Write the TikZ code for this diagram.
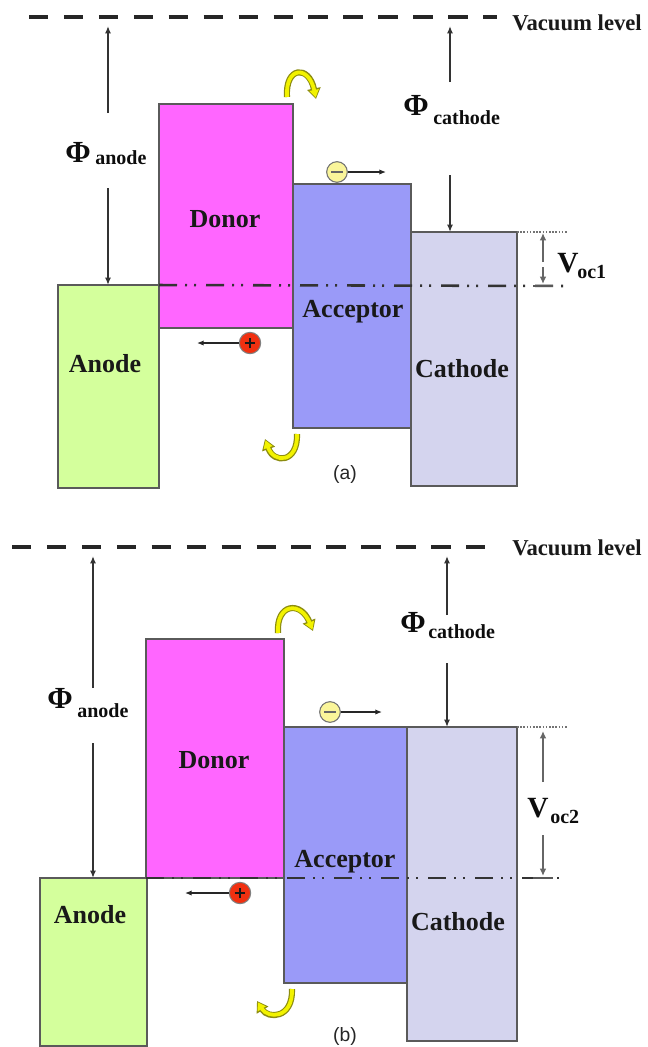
\documentclass[tikz,border=0pt]{standalone}
\usepackage{fontspec}
\setmainfont{Liberation Serif}
\newfontfamily\capfont{Liberation Sans}
\usetikzlibrary{arrows.meta,fit}
\definecolor{anodecol}{HTML}{D4FF9C}
\definecolor{donorcol}{HTML}{FF66FF}
\definecolor{acccol}{HTML}{9A9AF8}
\definecolor{cathcol}{HTML}{D4D4EE}
\definecolor{boxline}{HTML}{5A5A5A}
\definecolor{curvey}{HTML}{F2F200}
\definecolor{curveo}{HTML}{8C8C10}
\definecolor{holecol}{HTML}{F03010}
\definecolor{eleccol}{HTML}{FAF59A}
\tikzset{
  band/.style={draw=boxline, line width=1.1pt, inner sep=0pt, outer sep=0pt},
  lbl/.style={font=\fontsize{19.5}{20}\selectfont\bfseries, text=black!90, inner sep=0pt, anchor=base},
  vaclbl/.style={font=\fontsize{17}{18}\selectfont\bfseries, text=black!90, inner sep=0pt, anchor=base west},
  philbl/.style={font=\fontsize{23}{23}\selectfont\bfseries, text=black!95, inner sep=0pt, anchor=base west},
  vlbl/.style={font=\fontsize{22}{22}\selectfont\bfseries, text=black!95, inner sep=0pt, anchor=base west},
  sublbl/.style={font=\fontsize{15}{15}\selectfont\bfseries, text=black!95, inner sep=0pt, anchor=base west},
  caplbl/.style={font=\capfont\fontsize{14.5}{15}\selectfont, text=black!85, inner sep=0pt, anchor=base},
  vac/.style={line width=3.3pt, dash pattern=on 14.5pt off 11.7pt, black!85},
  fermi/.style={line width=1.9pt, black!80, dash pattern=on 13.5pt off 6pt on 1.5pt off 5.25pt on 1.5pt off 7.5pt},
  dotline/.style={line width=0.8pt, black!55, dash pattern=on 1.2pt off 1.2pt},
  phiarr/.style={line width=1.1pt, black!80, -{Latex[length=5.5pt,width=4.5pt]}},
  vocarr/.style={line width=1.5pt, black!60, -{Latex[length=5.5pt,width=5pt]}},
  capbar/.style={line width=2.2pt, black!65},
  smallarr/.style={line width=0.9pt, black!85, -{Latex[length=5pt,width=4pt]}},
  elec/.style={circle, draw=black!55, line width=0.8pt, fill=eleccol, minimum size=15.5pt, inner sep=0pt,
    path picture={\draw[line width=1.6pt, black!60] ([xshift=-4.2pt]path picture bounding box.center) -- ([xshift=4.2pt]path picture bounding box.center);}},
  hole/.style={circle, draw=black!50, line width=0.8pt, fill=holecol, minimum size=16pt, inner sep=0pt,
    path picture={\draw[line width=1.3pt, black!90] ([xshift=-4pt]path picture bounding box.center) -- ([xshift=4pt]path picture bounding box.center)
      ([yshift=-4pt]path picture bounding box.center) -- ([yshift=4pt]path picture bounding box.center);}},
}
\newcommand{\yellowcurve}[1]{%
  \draw[line width=4.6pt, curveo, -{Triangle[length=8pt,width=9.8pt]}] #1;
  \draw[line width=2.8pt, curvey, -{Triangle[length=5.8pt,width=6.8pt]}, shorten >=1.1pt] #1;}
\begin{document}
\begin{tikzpicture}[x=0.75pt,y=-0.75pt]
\useasboundingbox (0,0) rectangle (647,1047);

% ================= panel (a) =================
\node[band, fill=anodecol, fit={(58,285) (159,488)}] (anodeA) {};
\node[band, fill=donorcol, fit={(159,104) (293,328)}] (donorA) {};
\node[band, fill=acccol, fit={(293,184) (411,428)}] (accA) {};
\node[band, fill=cathcol, fit={(411,232) (517,486)}] (cathA) {};

\node[lbl] (donorAl) at (225,227) {Donor};
\node[lbl] (anodeAl) at (105,372) {Anode};
\node[lbl] (accAl) at (353,317) {Acceptor};
\node[lbl] (cathAl) at (462,377) {Cathode};

% vacuum level
\coordinate (vacAs) at (29,17);
\coordinate (vacAe) at (497,17);
\draw[vac] (vacAs) -- (vacAe);
\node[vaclbl] (vacAl) at (512,30) {Vacuum level};

% Fermi level line and dotted top
\coordinate (fAe) at (563,286);
\draw[fermi] (anodeA.north east) -- (fAe);
\coordinate (dAe) at (567,232);
\draw[dotline] (cathA.north east) -- (dAe);

% Phi anode
\node[philbl] (phiA) at (65,162) {Φ};
\node[sublbl] (phiAs) at (95,164) {anode};
\coordinate (paA1) at (108,113);
\coordinate (paA0) at (108,26);
\draw[phiarr] (paA1) -- (paA0);
\coordinate (paA2) at (108,188);
\draw[phiarr] (paA2) -- (paA2 |- anodeA.north);

% Phi cathode
\node[philbl] (phcA) at (403,115) {Φ};
\node[sublbl] (phcAs) at (433,124) {cathode};
\coordinate (pcA1) at (450,82);
\coordinate (pcA0) at (450,26);
\draw[phiarr] (pcA1) -- (pcA0);
\coordinate (pcA2) at (450,175);
\draw[phiarr] (pcA2) -- (pcA2 |- cathA.north);

% Voc1
\node[vlbl] (vA) at (557,272) {V};
\node[sublbl] (vAs) at (577,278) {oc1};
\coordinate (vA1) at (543,262);
\coordinate (vA0) at (543,233);
\draw[vocarr] (vA1) -- (vA0);
\coordinate (vA2) at (543,267);
\coordinate (vA3) at (543,284);
\draw[vocarr] (vA2) -- (vA3);
\coordinate (bA1) at (533,286);
\coordinate (bA2) at (553,286);
\draw[capbar] (bA1) -- (bA2);

% carriers
\node[elec] (eA) at (337,172) {};
\coordinate (eAe) at (386,172);
\draw[smallarr] (eA) -- (eAe);
\node[hole] (hA) at (250,343) {};
\coordinate (hAe) at (197,343);
\draw[smallarr] (hA) -- (hAe);

% curved yellow arrows
\yellowcurve{(287,97) .. controls (285,66) and (309,65) .. (316,99)}
\yellowcurve{(297,434) .. controls (298,463) and (274,464) .. (265,439)}

\node[caplbl] (capA) at (345,479) {(a)};

% ================= panel (b) =================
\node[band, fill=anodecol, fit={(40,878) (147,1046)}] (anodeB) {};
\node[band, fill=donorcol, fit={(146,639) (284,878)}] (donorB) {};
\node[band, fill=acccol, fit={(284,727) (407,983)}] (accB) {};
\node[band, fill=cathcol, fit={(407,727) (517,1041)}] (cathB) {};

\node[lbl] (donorBl) at (214,768) {Donor};
\node[lbl] (anodeBl) at (90,923) {Anode};
\node[lbl] (accBl) at (345,867) {Acceptor};
\node[lbl] (cathBl) at (458,930) {Cathode};

\coordinate (vacBs) at (12,547);
\coordinate (vacBe) at (494,547);
\draw[vac] (vacBs) -- (vacBe);
\node[vaclbl] (vacBl) at (512,555) {Vacuum level};

\coordinate (fBe) at (563,878);
\draw[fermi] (donorB.south west) -- (fBe);
\coordinate (dBe) at (568,727);
\draw[dotline] (cathB.north east) -- (dBe);

% Phi anode
\node[philbl] (phiB) at (47,708) {Φ};
\node[sublbl] (phiBs) at (77,717) {anode};
\coordinate (paB1) at (93,688);
\coordinate (paB0) at (93,556);
\draw[phiarr] (paB1) -- (paB0);
\coordinate (paB2) at (93,743);
\draw[phiarr] (paB2) -- (paB2 |- anodeB.north);

% Phi cathode
\node[philbl] (phcB) at (400,632) {Φ};
\node[sublbl] (phcBs) at (428,638) {cathode};
\coordinate (pcB1) at (447,615);
\coordinate (pcB0) at (447,556);
\draw[phiarr] (pcB1) -- (pcB0);
\coordinate (pcB2) at (447,663);
\draw[phiarr] (pcB2) -- (pcB2 |- cathB.north);

% Voc2
\node[vlbl] (vB) at (527,817) {V};
\node[sublbl] (vBs) at (550,823) {oc2};
\coordinate (vB1) at (543,782);
\coordinate (vB0) at (543,731);
\draw[vocarr] (vB1) -- (vB0);
\coordinate (vB2) at (543,835);
\coordinate (vB3) at (543,876);
\draw[vocarr] (vB2) -- (vB3);
\coordinate (bB1) at (533,878);
\coordinate (bB2) at (553,878);
\draw[capbar] (bB1) -- (bB2);

% carriers
\node[elec] (eB) at (330,712) {};
\coordinate (eBe) at (382,712);
\draw[smallarr] (eB) -- (eBe);
\node[hole] (hB) at (240,893) {};
\coordinate (hBe) at (185,893);
\draw[smallarr] (hB) -- (hBe);

\yellowcurve{(278,633) .. controls (276,603) and (301,601) .. (313,631)}
\yellowcurve{(292,989) .. controls (293,1019) and (268,1019) .. (257,1001)}

\node[caplbl] (capB) at (345,1041) {(b)};
\end{tikzpicture}
\end{document}
